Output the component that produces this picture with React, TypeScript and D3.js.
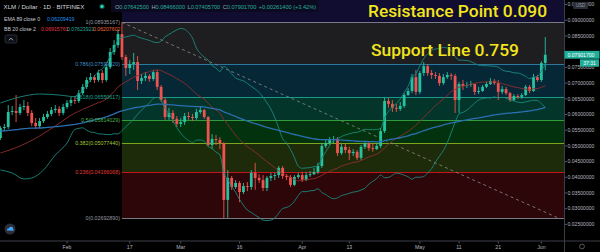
import React from "react";
import * as d3 from "d3";

const DAY = 86400000;
const START = Date.UTC(2020, 0, 15);

// Daily candles XLM/USD, Jan 15 2020 .. Jun 2 2020 (open = previous close)
const firstOpen = 0.0525;
const closes = [
  0.0557, 0.056, 0.0608, 0.0611, 0.0605, 0.0624, 0.0627, 0.0605, 0.0573, 0.0563,
  0.0579, 0.0592, 0.0602, 0.0614, 0.0618, 0.0605, 0.0624, 0.0637, 0.0646, 0.0643,
  0.0668, 0.0688, 0.071, 0.0719, 0.071, 0.0732, 0.071, 0.0751, 0.0799, 0.0821,
  0.0856, 0.0783, 0.0748, 0.0761, 0.0767, 0.0707, 0.0716, 0.0723, 0.0713, 0.0735,
  0.0688, 0.0646, 0.0592, 0.0605, 0.0586, 0.057, 0.0576, 0.0595, 0.0592, 0.0589,
  0.0608, 0.0614, 0.0592, 0.0503, 0.0522, 0.0519, 0.0509, 0.0328, 0.0398, 0.0369,
  0.0382, 0.0353, 0.0372, 0.0369, 0.0414, 0.0398, 0.0391, 0.0366, 0.0398, 0.0404,
  0.0407, 0.043, 0.0404, 0.0401, 0.0376, 0.0401, 0.0407, 0.0391, 0.0407, 0.041,
  0.0417, 0.0436, 0.05, 0.0509, 0.0519, 0.0522, 0.0477, 0.0497, 0.0487, 0.0477,
  0.0481, 0.0462, 0.0497, 0.0509, 0.0493, 0.049, 0.05, 0.0547, 0.0643, 0.0634,
  0.0621, 0.0618, 0.0627, 0.0662, 0.0675, 0.0719, 0.0672, 0.0732, 0.0754, 0.0732,
  0.0726, 0.0723, 0.07, 0.0719, 0.0726, 0.0723, 0.0646, 0.0697, 0.0691, 0.0694,
  0.0697, 0.0672, 0.0675, 0.0688, 0.0697, 0.0707, 0.07, 0.0672, 0.0681, 0.0668,
  0.0646, 0.0659, 0.0656, 0.0662, 0.0688, 0.0675, 0.0719, 0.071, 0.07642, 0.07902,
];
const highs = [
  0.0563, 0.057, 0.063, 0.0627, 0.0662, 0.0634, 0.0646, 0.064, 0.0614, 0.0589,
  0.0589, 0.0602, 0.0611, 0.0624, 0.063, 0.0627, 0.0634, 0.0646, 0.0656, 0.0659,
  0.0678, 0.0697, 0.0719, 0.0732, 0.0726, 0.0742, 0.0742, 0.0761, 0.0812, 0.0837,
  0.0869, 0.08935, 0.079, 0.0774, 0.0796, 0.0786, 0.0729, 0.0735, 0.0729, 0.0742,
  0.0742, 0.0694, 0.0653, 0.0621, 0.0614, 0.0595, 0.0589, 0.0605, 0.0608, 0.0602,
  0.0618, 0.0627, 0.0618, 0.0595, 0.0538, 0.0535, 0.0528, 0.0512, 0.0423, 0.0404,
  0.0391, 0.0388, 0.0382, 0.0385, 0.0423, 0.0446, 0.041, 0.0407, 0.0404, 0.0414,
  0.0414, 0.0436, 0.0436, 0.041, 0.0407, 0.0407, 0.0414, 0.0417, 0.0417, 0.042,
  0.043, 0.0446, 0.0509, 0.0519, 0.0528, 0.0532, 0.0528, 0.0506, 0.0506, 0.0497,
  0.049, 0.0487, 0.0503, 0.0516, 0.0512, 0.0506, 0.0509, 0.0557, 0.0653, 0.0653,
  0.0646, 0.0634, 0.064, 0.0668, 0.0684, 0.0729, 0.0742, 0.0739, 0.0767, 0.0761,
  0.0742, 0.0735, 0.0732, 0.0729, 0.0735, 0.0732, 0.0729, 0.0704, 0.071, 0.0704,
  0.0707, 0.0697, 0.0688, 0.0694, 0.0704, 0.0716, 0.0713, 0.071, 0.0691, 0.0688,
  0.0672, 0.0665, 0.0665, 0.0668, 0.0694, 0.0694, 0.0729, 0.0726, 0.077, 0.08466,
];
const lows = [
  0.0519, 0.0547, 0.0554, 0.0598, 0.0576, 0.0598, 0.0614, 0.0595, 0.0563, 0.0554,
  0.0557, 0.0573, 0.0586, 0.0595, 0.0605, 0.0595, 0.0598, 0.0618, 0.0627, 0.0634,
  0.0637, 0.0662, 0.0681, 0.0704, 0.07, 0.0704, 0.07, 0.0704, 0.0745, 0.079,
  0.0812, 0.0774, 0.0723, 0.0729, 0.0742, 0.0678, 0.0697, 0.0707, 0.0704, 0.0707,
  0.0678, 0.064, 0.0583, 0.0583, 0.0573, 0.056, 0.056, 0.0567, 0.0583, 0.0579,
  0.0583, 0.0602, 0.0586, 0.0497, 0.049, 0.0503, 0.049, 0.02693, 0.0271, 0.036,
  0.0363, 0.0321, 0.0347, 0.0356, 0.036, 0.036, 0.0382, 0.0356, 0.0356, 0.0388,
  0.0391, 0.0398, 0.0395, 0.0391, 0.0369, 0.0372, 0.0395, 0.0385, 0.0388, 0.0401,
  0.0407, 0.041, 0.043, 0.0493, 0.0503, 0.0509, 0.0468, 0.0471, 0.0477, 0.0455,
  0.0468, 0.0455, 0.0455, 0.049, 0.0484, 0.0481, 0.0487, 0.0493, 0.0541, 0.0621,
  0.0608, 0.0608, 0.0611, 0.0621, 0.0659, 0.0668, 0.0662, 0.0665, 0.0723, 0.0723,
  0.0713, 0.0713, 0.0691, 0.0694, 0.0713, 0.071, 0.0605, 0.0605, 0.0678, 0.0684,
  0.0688, 0.0662, 0.0665, 0.0672, 0.0684, 0.0694, 0.0694, 0.0646, 0.0665, 0.0662,
  0.064, 0.0643, 0.065, 0.065, 0.0659, 0.0668, 0.0672, 0.0704, 0.0704, 0.07406,
];

// Indicators: EMA 89 value at the first visible candle (read), BB(20) before 20 candles exist (read)
const emaSeed = 0.05475;
const bbUpperEarly: [number, number][] = [[0, 0.06367], [5, 0.06558], [10, 0.06653], [15, 0.0662]];
const bbBasisEarly: [number, number][] = [[0, 0.04774], [5, 0.04997], [10, 0.05316], [14, 0.05634]];
const bbLowerEarly: [number, number][] = [[0, 0.04233], [3, 0.04137], [6, 0.03946], [8, 0.03978], [11, 0.04233], [14, 0.0471], [17, 0.05092]];

// Fibonacci retracement
const fibRatios = [1, 0.786, 0.618, 0.5, 0.382, 0.236, 0];
const fibPrices = [0.08935167, 0.0759932, 0.06550617, 0.05814029, 0.0507744, 0.04166068, 0.0269289];
const fibStartDay = 31;
const fibLineColors = ["#787b86", "#2b78a0", "#179a88", "#2f9e3a", "#7fa51f", "#c2181b", "#787b86"];
const fibLabelColors = ["#9598a1", "#3f90c6", "#1fa694", "#4caf50", "#a0c83a", "#e53935", "#9598a1"];
const fibZoneColors = ["#1e1e20", "#062735", "#04352a", "#03320e", "#1e2b0b", "#2c0609"];
const aboveZoneColor = "#110d31";

// Dashed trend line
const trendFrom: [number, number] = [31, 0.08935167];
const trendTo: [number, number] = [142, 0.0272];

const priceTicks = [0.025, 0.03, 0.035, 0.04, 0.045, 0.05, 0.055, 0.06, 0.065, 0.07, 0.075, 0.08, 0.085, 0.09, 0.095];
const timeTicks: [string, string][] = [
  ["2020-02-01", "Feb"], ["2020-02-17", "17"], ["2020-03-01", "Mar"], ["2020-03-16", "16"],
  ["2020-04-01", "Apr"], ["2020-04-13", "13"], ["2020-05-01", "May"], ["2020-05-11", "11"],
  ["2020-05-21", "21"], ["2020-06-01", "Jun"],
];

const lastPrice = 0.079017;
const countdown = "37:31";
const titleText = "XLM / Dollar · 1D · BITFINEX";
const ohlcLabels = ["O", "H", "L", "C"];
const ohlcValues = ["0.07642500", "0.08466000", "0.07405700", "0.07901700"];
const changeText = "+0.00261400 (+3.42%)";
const emaLegendLabel = "EMA 89 close 0";
const emaLegendValue = "0.06209419";
const bbLegendLabel = "BB 20 close 2";
const bbLegendValues = ["0.06915761", "0.07623921", "0.06207602"];
const resistanceText = "Resistance Point 0.090";
const supportText = "Support Line 0.759";

const UP = "#26c2a0";
const DOWN = "#ef5350";
const UI_FONT = "'Liberation Sans', Arial, sans-serif";
const PLOT_R = 564;
const PLOT_B = 240.5;

export default function App() {
  const x = d3
    .scaleUtc()
    .domain([new Date(START), new Date(START + 139 * DAY)])
    .range([0.4, 0.4 + 139 * 3.92]);
  const y = d3.scaleLinear().domain([0.025, 0.095]).range([224.4, 4.6]);
  const dx = (i: number) => x(new Date(START + i * DAY));

  const candles = closes.map((c, i) => ({
    i,
    open: i === 0 ? firstOpen : closes[i - 1],
    close: c,
    high: highs[i],
    low: lows[i],
  }));

  const alpha = 2 / (89 + 1);
  const ema: [number, number][] = [];
  closes.forEach((c, i) => {
    ema.push([i, i === 0 ? emaSeed : alpha * c + (1 - alpha) * ema[i - 1][1]]);
  });

  const bbUp: [number, number][] = [...bbUpperEarly];
  const bbMid: [number, number][] = [...bbBasisEarly];
  const bbLow: [number, number][] = [...bbLowerEarly];
  closes.forEach((_, i) => {
    if (i < 19) return;
    const win = closes.slice(i - 19, i + 1);
    const m = d3.mean(win) as number;
    const sd = Math.sqrt(d3.mean(win, (v) => (v - m) * (v - m)) as number);
    bbUp.push([i, m + 2 * sd]);
    bbMid.push([i, m]);
    bbLow.push([i, m - 2 * sd]);
  });

  const line = d3
    .line<[number, number]>()
    .x((d) => dx(d[0]))
    .y((d) => y(d[1]))
    .curve(d3.curveMonotoneX);

  const zx0 = dx(fibStartDay);
  const bodyW = 2.8;
  const yLast = y(lastPrice);

  return (
    <svg
      width={600}
      height={252}
      style={{ position: "absolute", left: 0, top: 0, display: "block" }}
      fontFamily={UI_FONT}
    >
      <defs>
        <clipPath id="plot">
          <rect x={0} y={0} width={PLOT_R} height={PLOT_B} />
        </clipPath>
      </defs>
      <rect x={0} y={0} width={600} height={252} fill="#000" />

      <g clipPath="url(#plot)">
        {/* fib zones */}
        <rect x={zx0} y={0} width={PLOT_R - zx0} height={y(fibPrices[0])} fill={aboveZoneColor} />
        {fibZoneColors.map((c, k) => (
          <rect
            key={"z" + k}
            x={zx0}
            y={y(fibPrices[k])}
            width={PLOT_R - zx0}
            height={y(fibPrices[k + 1]) - y(fibPrices[k])}
            fill={c}
          />
        ))}
        {fibPrices.map((p, k) => (
          <line
            key={"fl" + k}
            x1={zx0}
            x2={PLOT_R}
            y1={Math.round(y(p)) + 0.5}
            y2={Math.round(y(p)) + 0.5}
            stroke={fibLineColors[k]}
            strokeWidth={1}
          />
        ))}

        {/* trend line */}
        <line
          x1={dx(trendFrom[0])}
          y1={y(trendFrom[1])}
          x2={dx(trendTo[0])}
          y2={y(trendTo[1])}
          stroke="#8c8c8c"
          strokeWidth={1}
          strokeDasharray="3,3"
          opacity={0.8}
        />

        {/* candles */}
        {candles.map((c) => {
          const cx = dx(c.i);
          const up = c.close >= c.open;
          const col = up ? UP : DOWN;
          const top = y(Math.max(c.open, c.close));
          const h = Math.max(0.8, Math.abs(y(c.open) - y(c.close)));
          return (
            <g key={"c" + c.i}>
              <line x1={cx} x2={cx} y1={y(c.high)} y2={y(c.low)} stroke={col} strokeWidth={0.9} />
              <rect x={cx - bodyW / 2} y={top} width={bodyW} height={h} fill={col} />
            </g>
          );
        })}

        {/* indicators */}
        <path d={line(bbUp) || ""} fill="none" stroke="#1b8a80" strokeWidth={1} opacity={0.9} />
        <path d={line(bbLow) || ""} fill="none" stroke="#1b8a80" strokeWidth={1} opacity={0.9} />
        <path d={line(bbMid) || ""} fill="none" stroke="#8e2f2c" strokeWidth={1} opacity={0.9} />
        <path d={line(ema) || ""} fill="none" stroke="#2a6fb0" strokeWidth={1.3} />
      </g>

      {/* fib labels */}
      {fibPrices.map((p, k) => (
        <text
          key={"ft" + k}
          x={zx0 - 2}
          y={y(p)}
          dy="0.35em"
          textAnchor="end"
          fontSize={5.3}
          fill={fibLabelColors[k]}
        >
          {`${fibRatios[k]}(${p.toFixed(8)})`}
        </text>
      ))}

      {/* legend */}
      <rect x={111} y={0} width={207} height={12} fill="#0b0a21" />
      <text x={3.5} y={9} fontSize={6.2} fill="#d1d4dc">
        {titleText}
      </text>
      <circle cx={102} cy={6.5} r={2.8} fill="#26a69a" opacity={0.35} />
      <circle cx={102} cy={6.5} r={1.7} fill="#2bd1b0" />
      <text x={115} y={8.6} fontSize={5.6}>
        {ohlcLabels.map((l, k) => (
          <React.Fragment key={"o" + k}>
            <tspan fill="#a3a6af" dx={k === 0 ? 0 : 2.5}>{l}</tspan>
            <tspan fill="#26b09c">{ohlcValues[k]}</tspan>
          </React.Fragment>
        ))}
        <tspan fill="#26b09c" dx={2.5}>{changeText}</tspan>
      </text>
      <text x={4} y={20.5} fontSize={5.2} fill="#c8cbd3">
        {emaLegendLabel}
      </text>
      <text x={47} y={20.5} fontSize={5.2} fill="#2196f3">
        {emaLegendValue}
      </text>
      <text x={4} y={31} fontSize={5.2} fill="#c8cbd3">
        {bbLegendLabel}
      </text>
      <text x={41} y={31} fontSize={5.2} fill="#e8364a">
        {bbLegendValues[0]}
      </text>
      <text x={67} y={31} fontSize={5.2} fill="#26a69a">
        {bbLegendValues[1]}
      </text>
      <text x={93} y={31} fontSize={5.2} fill="#f0683a">
        {bbLegendValues[2]}
      </text>
      <rect x={5} y={35} width={12} height={8} rx={1.5} fill="#0d0f16" stroke="#3a3e4a" strokeWidth={0.7} />
      <path d="M8.8,40.3 L11,38.2 L13.2,40.3" fill="none" stroke="#c8cbd3" strokeWidth={0.8} />

      {/* annotations */}
      <text
        x={368}
        y={17}
        fontSize={17}
        fontFamily="Roboto, 'Open Sans', sans-serif"
        fontWeight={500}
        fill="#f2e41d"
        textLength={179}
        lengthAdjust="spacingAndGlyphs"
      >
        {resistanceText}
      </text>
      <text
        x={371}
        y={56}
        fontSize={16}
        fontFamily="Roboto, 'Open Sans', sans-serif"
        fontWeight={500}
        fill="#f2e41d"
        textLength={148}
        lengthAdjust="spacingAndGlyphs"
      >
        {supportText}
      </text>

      {/* logo */}
      <circle cx={10} cy={229} r={5.5} fill="#2a2e39" />
      <path
        d="M6.8,230.5 Q6.8,228.2 9,228.2 Q9.6,226.4 11.4,226.8 Q13.4,227.2 13.2,229.2 Q14,229.6 13.6,230.8 Z"
        fill="#42a5f5"
      />

      {/* axes frame */}
      <line x1={PLOT_R + 0.5} x2={PLOT_R + 0.5} y1={0} y2={252} stroke="#3a3e48" strokeWidth={1} />
      <line x1={0} x2={600} y1={PLOT_B + 0.5} y2={PLOT_B + 0.5} stroke="#3a3e48" strokeWidth={1} />

      {/* price axis */}
      {priceTicks
        .filter((t) => Math.abs(y(t) - yLast) > 6)
        .map((t) => (
          <g key={"pt" + t}>
            <line x1={PLOT_R + 1} x2={PLOT_R + 3} y1={y(t)} y2={y(t)} stroke="#787b86" strokeWidth={0.7} />
            <text x={567.5} y={y(t)} dy="0.35em" fontSize={5.1} fill="#b2b5be">
              {t.toFixed(8)}
            </text>
          </g>
        ))}
      <rect x={573} y={2} width={15} height={7} rx={1} fill="#2a2e39" />
      <text x={580.5} y={5.5} dy="0.35em" textAnchor="middle" fontSize={4.6} fill="#9598a1">
        USD
      </text>
      <rect x={564.5} y={yLast - 3.9} width={35} height={7.8} fill="#1fae9a" />
      <text x={567.5} y={yLast} dy="0.35em" fontSize={5.1} fill="#ffffff">
        {lastPrice.toFixed(8)}
      </text>
      <rect x={580} y={yLast + 4.5} width={19} height={7.4} fill="#1fae9a" />
      <text x={589.5} y={yLast + 8.2} dy="0.35em" textAnchor="middle" fontSize={5} fill="#ffffff">
        {countdown}
      </text>

      {/* time axis */}
      {timeTicks.map(([d, label]) => {
        const tx = x(new Date(d + "T00:00:00Z"));
        return (
          <g key={"tt" + d}>
            <line x1={tx} x2={tx} y1={PLOT_B + 1} y2={PLOT_B + 3} stroke="#787b86" strokeWidth={0.7} />
            <text x={tx} y={247.5} dy="0.35em" textAnchor="middle" fontSize={5.2} fill="#b2b5be">
              {label}
            </text>
          </g>
        );
      })}
      <circle cx={582} cy={246.5} r={2.4} fill="none" stroke="#787b86" strokeWidth={0.7} />
    </svg>
  );
}
